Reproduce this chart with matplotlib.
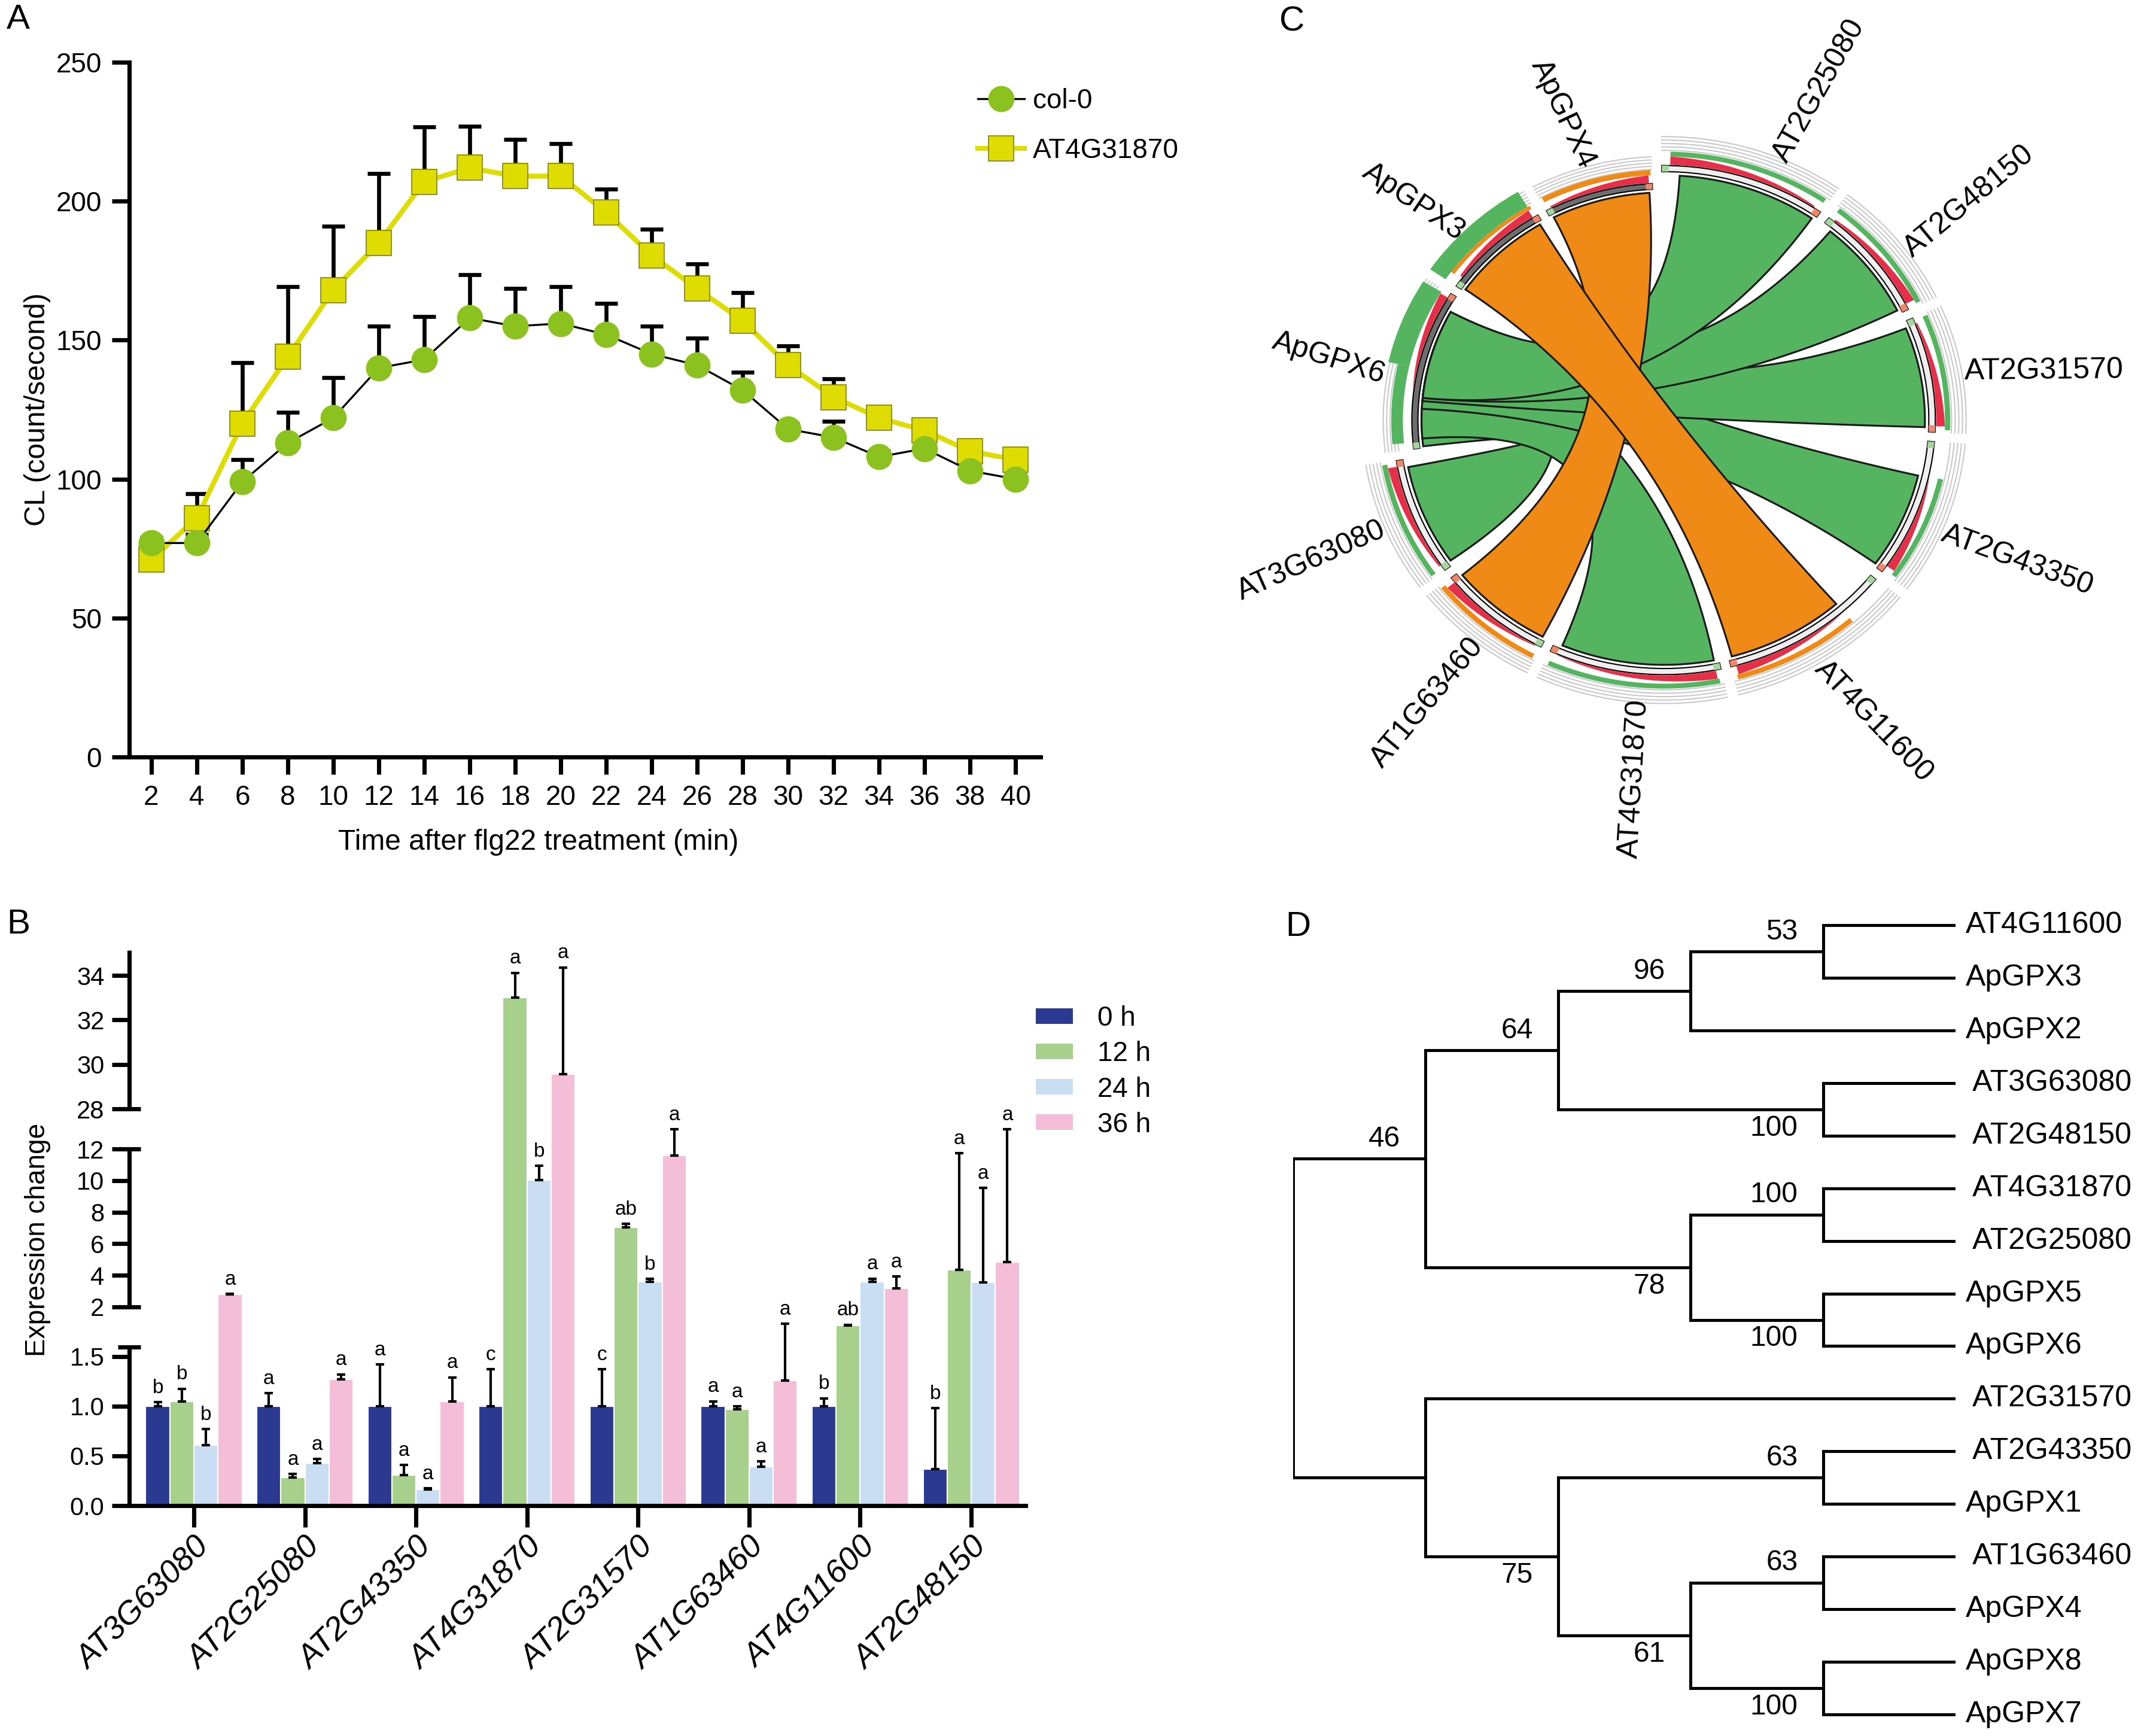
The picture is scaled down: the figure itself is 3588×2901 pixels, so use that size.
import numpy as np
import matplotlib
matplotlib.use('Agg')
import matplotlib.pyplot as plt
import matplotlib.transforms as mtransforms
from matplotlib.patches import Wedge, Polygon, Patch
from matplotlib.lines import Line2D

plt.rcParams['font.family'] = ['Liberation Sans', 'DejaVu Sans']

W, H, DPI = 3588, 2901, 300

# ---------------- panel A data
time_min = [2, 4, 6, 8, 10, 12, 14, 16, 18, 20, 22, 24, 26, 28, 30, 32, 34, 36, 38, 40]
col0_mean = [77, 77, 99, 113, 122, 140, 143, 158, 155, 156, 152, 145, 141, 132, 118, 115, 108, 111, 103, 100]
col0_err = [2, 3, 8, 11, 14.5, 15, 15.4, 15.5, 13.5, 13.3, 11.3, 10, 9.8, 6.4, 2, 5.7, 2, 2, 2, 2]
mut_mean = [71, 86, 120, 144, 168, 185, 207, 212, 209, 209, 196, 180.5, 168.5, 157, 141, 129.5, 122, 117.5, 110, 107]
mut_err = [2, 8.8, 22, 25.3, 23, 25, 19.7, 15, 13.3, 11.7, 8.4, 9.5, 9, 10, 7, 6.5, 2, 2, 2, 2]

# ---------------- panel B data
genes = ['AT3G63080', 'AT2G25080', 'AT2G43350', 'AT4G31870',
         'AT2G31570', 'AT1G63460', 'AT4G11600', 'AT2G48150']
hours = ['0 h', '12 h', '24 h', '36 h']
expr_0h = [1.0, 1.0, 1.0, 1.0, 1.0, 1.0, 1.0, 0.37]
expr_12h = [1.05, 0.28, 0.31, 33.0, 7.05, 0.97, 1.81, 4.34]
expr_24h = [0.61, 0.43, 0.16, 10.03, 3.59, 0.39, 3.59, 3.56]
expr_36h = [2.78, 1.27, 1.05, 29.58, 11.59, 1.26, 3.15, 4.85]
err_0h = [0.04, 0.13, 0.42, 0.37, 0.37, 0.05, 0.08, 0.61]
err_12h = [0.125, 0.04, 0.10, 1.12, 0.2, 0.03, 0.01, 7.39]
err_24h = [0.16, 0.04, 0.015, 0.92, 0.17, 0.055, 0.2, 5.97]
err_36h = [0.03, 0.05, 0.24, 4.78, 8.31, 0.57, 0.78, 15.05]
sig_0h = ['b', 'a', 'a', 'c', 'c', 'a', 'b', 'b']
sig_12h = ['b', 'a', 'a', 'a', 'ab', 'a', 'ab', 'a']
sig_24h = ['b', 'a', 'a', 'b', 'b', 'a', 'a', 'a']
sig_36h = ['a', 'a', 'a', 'a', 'a', 'a', 'a', 'a']
# broken axis: value knots and their relative heights
break_vals = [0, 2, 12, 28, 36]
break_pos = [0, 372, 667, 742, 1075.3]

# ---------------- panel C data
sectors = ['AT2G25080', 'AT2G48150', 'AT2G31570', 'AT2G43350', 'AT4G11600', 'AT4G31870',
           'AT1G63460', 'AT3G63080', 'ApGPX6', 'ApGPX3', 'ApGPX4']
sector_size = [37.9, 29.0, 28.5, 33.8, 39.2, 39.1, 26.9, 29.1, 41.5, 27.7, 27.3]
label_theta = [66.2, 37.4, 7.9, -22.9, -56.8, -94.5, -128.2, -157.0, 168.9, 137.1, 107.2]
label_rot = [60.6, 39.4, 0.5, -20.0, -46.0, 86.5, 50.2, 23.9, -17.7, -34.0, -64.8]
link_a = ['AT3G63080', 'AT4G31870', 'AT2G43350', 'AT2G31570', 'AT2G48150', 'AT2G25080',
          'AT1G63460', 'AT4G11600']
link_a_span = [(0.04, 0.93), (0.03, 0.95), (0.26, 0.98), (0.06, 0.96), (0.08, 0.97),
               (0.11, 0.98), (0.03, 0.96), (0.27, 0.98)]
link_b = ['ApGPX6', 'ApGPX6', 'ApGPX6', 'ApGPX6', 'ApGPX6', 'ApGPX6', 'ApGPX4', 'ApGPX3']
link_b_span = [(0.01, 0.75), (0.06, 0.8), (0.25, 0.86), (0.30, 0.88), (0.32, 0.9),
               (0.32, 0.9), (0.03, 0.97), (0.02, 0.97)]
link_kind = ['g', 'g', 'g', 'g', 'g', 'g', 'o', 'o']
# red track: (p0, p1, height at p0, height at p1)
red_track = [(0.05, 0.95, 1.0, 0.15), (0.05, 0.95, 0.2, 1.0), (0.05, 0.95, 0.15, 1.0),
             (0.25, 0.95, 0.0, 1.0), (0.27, 0.97, 0.0, 1.0), (0.03, 0.95, 1.0, 0.05),
             (0.05, 0.95, 0.1, 1.0), (0.05, 0.95, 0.2, 1.0), (0.35, 0.97, 0.0, 1.0),
             (0.1, 0.95, 0.3, 1.0), (0.05, 0.97, 0.2, 1.0)]
# outer tracks: (sector, p0, p1, r0, r1, kind)
outer_track = [('AT2G25080', 0.05, 0.98, 1.077, 1.097, 'g'), ('AT2G48150', 0.02, 0.98, 1.077, 1.097, 'g'),
               ('AT2G31570', 0.02, 0.98, 1.077, 1.097, 'g'), ('AT2G43350', 0.25, 0.98, 1.077, 1.097, 'g'),
               ('AT4G11600', 0.27, 0.98, 1.077, 1.097, 'o'), ('AT4G31870', 0.02, 0.98, 1.077, 1.097, 'g'),
               ('AT1G63460', 0.02, 0.98, 1.077, 1.097, 'o'), ('AT3G63080', 0.02, 0.98, 1.077, 1.097, 'g'),
               ('ApGPX6', 0.04, 0.5, 1.077, 1.125, 'g'), ('ApGPX6', 0.5, 0.98, 1.077, 1.165, 'g'),
               ('ApGPX3', 0.08, 0.98, 1.077, 1.093, 'o'), ('ApGPX3', 0.0, 0.96, 1.093, 1.17, 'g'),
               ('ApGPX4', 0.02, 0.99, 1.077, 1.1, 'o')]

# ---------------- panel D data
n53 = (['AT4G11600', 'ApGPX3'], 53)
n96 = ([n53, 'ApGPX2'], 96)
n100a = ([' AT3G63080', ' AT2G48150'], 100)
n64 = ([n96, n100a], 64)
n100b = ([' AT4G31870', ' AT2G25080'], 100)
n100c = (['ApGPX5', 'ApGPX6'], 100)
n78 = ([n100b, n100c], 78)
n46 = ([n64, n78], 46)
n63a = ([' AT2G43350', 'ApGPX1'], 63)
n63b = ([' AT1G63460', 'ApGPX4'], 63)
n100d = (['ApGPX8', 'ApGPX7'], 100)
n61 = ([n63b, n100d], 61)
n75 = ([n63a, n61], 75)
n_low = ([' AT2G31570', n75], None)
tree = ([n46, n_low], None)


def box(x0, y0, x1, y1):
    return [x0 / W, 1 - y1 / H, (x1 - x0) / W, (y1 - y0) / H]


fig = plt.figure(figsize=(W / DPI, H / DPI), dpi=DPI)

# ================= A
green_pt = '#8cc21f'
yellow = '#dedc00'
axA = fig.add_axes(box(216, 104, 1739, 1265))
zeros = np.zeros(len(time_min))
for mean, err in ((mut_mean, mut_err), (col0_mean, col0_err)):
    axA.errorbar(time_min, mean, yerr=[zeros, err], fmt='none', ecolor='black',
                 elinewidth=1.6, capsize=4.5, capthick=1.6, zorder=2)
axA.plot(time_min, mut_mean, color=yellow, lw=2.0, marker='s', ms=10,
         mfc=yellow, mec='#80800a', mew=0.4, zorder=3)
axA.plot(time_min, col0_mean, color='black', lw=0.8, zorder=4)
axA.plot(time_min, col0_mean, 'o', ms=9.5, color=green_pt, zorder=5)
axA.set_xlim(1.03, 41.1)
axA.set_ylim(0, 250)
axA.set_xticks(time_min)
axA.set_yticks([0, 50, 100, 150, 200, 250])
for s in ['top', 'right']:
    axA.spines[s].set_visible(False)
for s in ['left', 'bottom']:
    axA.spines[s].set_linewidth(1.7)
axA.tick_params(width=1.7, length=7, labelsize=11, pad=4)
axA.text(0.449, -0.123, 'Time after flg22 treatment (min)', transform=axA.transAxes,
         ha='center', va='center', fontsize=11.5)
axA.text(-0.101, 0.5, 'CL (count/second)', transform=axA.transAxes, rotation=90,
         ha='center', va='center', fontsize=11.5)
hA = [Line2D([0], [0], color='black', lw=0.8, marker='o', ms=9.5, mfc=green_pt, mec=green_pt),
      Line2D([0], [0], color=yellow, lw=2.0, marker='s', ms=10, mfc=yellow, mec='#80800a', mew=0.4)]
fig.legend(hA, ['col-0', 'AT4G31870'], loc='upper left', bbox_to_anchor=(1593 / W, 1 - 106 / H),
           frameon=False, fontsize=11, handlelength=1.7, handletextpad=0.3, labelspacing=0.85)

# ================= B
bar_cols = ['#2b3990', '#a8d08d', '#c9ddf3', '#f4bdd8']
axB = fig.add_axes(box(216, 1588, 1714, 2516))
axB.set_yscale('function', functions=(lambda v: np.interp(v, break_vals, break_pos),
                                       lambda p: np.interp(p, break_pos, break_vals)))
x = np.arange(len(genes))
w = 0.217
series = [(expr_0h, err_0h, sig_0h), (expr_12h, err_12h, sig_12h),
          (expr_24h, err_24h, sig_24h), (expr_36h, err_36h, sig_36h)]
for i, (vals, errs, sigs) in enumerate(series):
    xs = x + (i - 1.5) * w
    axB.bar(xs, vals, w, color=bar_cols[i], edgecolor='white', linewidth=0.5, zorder=2)
    axB.errorbar(xs, vals, yerr=[np.zeros(len(vals)), errs], fmt='none', ecolor='black',
                 elinewidth=1.0, capsize=1.6, capthick=1.0, zorder=3)
    for xi, v, e, s in zip(xs, vals, errs, sigs):
        axB.annotate(s, (xi, v + e), xytext=(0, 2), textcoords='offset points',
                     ha='center', va='bottom', fontsize=8)
axB.set_xlim(-0.582, 7.49)
axB.set_ylim(0, 35.13)
for s in ['top', 'right', 'left']:
    axB.spines[s].set_visible(False)
axB.spines['bottom'].set_linewidth(1.7)
yt = [0, 0.5, 1.0, 1.5, 2, 4, 6, 8, 10, 12, 28, 30, 32, 34]
axB.set_yticks(yt)
axB.set_yticklabels(['0.0', '0.5', '1.0', '1.5', '2', '4', '6', '8', '10', '12', '28', '30', '32', '34'])
axB.tick_params(axis='y', width=1.7, length=7, labelsize=10, pad=3)
axB.tick_params(axis='x', width=1.7, length=8.6, pad=2)
axB.set_xticks(x)
axB.set_xticklabels(genes, rotation=45, ha='right', va='top', rotation_mode='anchor',
                    fontstyle='italic', fontsize=13)
tr = mtransforms.blended_transform_factory(axB.transAxes, axB.transData)
for lo, hi in [(0, 1.597), (2, 12), (28, 35.13)]:
    axB.plot([0, 0], [lo, hi], transform=tr, color='black', lw=1.7, clip_on=False,
             solid_capstyle='butt', zorder=5)
for v in [1.597, 2, 12, 28]:
    axB.plot([-0.0127, 0.0127], [v, v], transform=tr, color='black', lw=1.7,
             clip_on=False, solid_capstyle='butt', zorder=5)
axB.text(-0.102, 0.478, 'Expression change', transform=axB.transAxes, rotation=90,
         ha='center', va='center', fontsize=11)
hB = [Patch(facecolor=c) for c in bar_cols]
fig.legend(hB, hours, loc='upper left', bbox_to_anchor=(1690 / W, 1 - 1639 / H), frameon=False,
           fontsize=11, handlelength=1.35, handleheight=0.5, handletextpad=0.9,
           labelspacing=0.33, borderpad=0.4)

# ================= C
kind_col = {'g': '#55b45f', 'o': '#f08a16'}
axC = fig.add_axes(box(2149, 88.5, 3413, 1315.5))
axC.set_xlim(-1.45, 1.45)
axC.set_ylim(-1.5, 1.5)
axC.axis('off')
gap = 2.2
bounds = {}
a = 91.6
for name, size in zip(sectors, sector_size):
    bounds[name] = (a - gap / 2, a - size + gap / 2)
    a -= size
rscale = {n: (0.93 if n.startswith('Ap') else 1.0) for n in sectors}


def ang(name, p):
    hi, lo = bounds[name]
    return hi - p * (hi - lo)


def arc(t0, t1, r, n=80):
    t = np.radians(np.linspace(t0, t1, n))
    return np.column_stack([r * np.cos(t), r * np.sin(t)])


def bez(p0, p2, n=100):
    t = np.linspace(0, 1, n)[:, None]
    return (1 - t) ** 2 * p0 + t ** 2 * p2


for k, name in enumerate(sectors):
    hi, lo = bounds[name]
    rs = rscale[name]
    for rr in [1.102, 1.116, 1.13, 1.144, 1.158]:
        pts = arc(hi, lo, rr * rs)
        axC.plot(pts[:, 0], pts[:, 1], color='#c9c9c9', lw=0.5, zorder=1)
    fc = '#6e6e6e' if name.startswith('Ap') else '#eeeeee'
    axC.add_patch(Wedge((0, 0), 1.04 * rs, lo, hi, width=0.025 * rs, fc=fc, ec='black', lw=0.5, zorder=3))
    axC.add_patch(Wedge((0, 0), 1.04 * rs, hi - 1.5, hi, width=0.025 * rs, fc='#a5d6a0', ec='none', zorder=4))
    axC.add_patch(Wedge((0, 0), 1.04 * rs, lo, lo + 1.5, width=0.025 * rs, fc='#f0876a', ec='none', zorder=4))
    p0, p1, f0, f1 = red_track[k]
    ps = np.linspace(p0, p1, 80)
    th = np.radians(hi - ps * (hi - lo))
    ro = (1.043 + 0.034 * (f0 + (f1 - f0) * (ps - p0) / (p1 - p0))) * rs
    outer = np.column_stack([ro * np.cos(th), ro * np.sin(th)])
    inner = np.column_stack([1.043 * rs * np.cos(th[::-1]), 1.043 * rs * np.sin(th[::-1])])
    axC.add_patch(Polygon(np.vstack([outer, inner]), closed=True, fc='#e6304a', ec='none', zorder=3))
    lr = 1.47 if rs == 1.0 else 1.31
    t = np.radians(label_theta[k])
    axC.text(lr * np.cos(t), lr * np.sin(t), name, rotation=label_rot[k], rotation_mode='anchor',
             ha='center', va='center', fontsize=12)

for name, p0, p1, r0, r1, kd in outer_track:
    rs = rscale[name]
    axC.add_patch(Wedge((0, 0), r1 * rs, ang(name, p1), ang(name, p0), width=(r1 - r0) * rs,
                        fc=kind_col[kd], ec='none', zorder=2))

for na, (a0, a1), nb, (b0, b1), kd in zip(link_a, link_a_span, link_b, link_b_span, link_kind):
    ra, rb = rscale[na], rscale[nb]
    A = arc(ang(na, a0), ang(na, a1), ra)
    B = arc(ang(nb, b0), ang(nb, b1), rb)
    pts = np.vstack([A, bez(A[-1], B[0]), B, bez(B[-1], A[0])])
    axC.add_patch(Polygon(pts, closed=True, fc=kind_col[kd], ec='#1a1a1a', lw=0.75, zorder=2))

# ================= D
axD = fig.add_axes(box(2161, 1502.5, 3268, 2891))
axD.set_xlim(0, 5)
axD.set_ylim(15.3, -0.5)
axD.axis('off')
leaves = []


def layout(node):
    if isinstance(node, str):
        leaves.append(node)
        return {'name': node, 'x': 5.0, 'y': len(leaves) - 1, 'h': 0, 'kids': [], 'sup': None}
    kids = [layout(c) for c in node[0]]
    h = max(c['h'] for c in kids) + 1
    return {'x': 5.0 - h, 'y': (kids[0]['y'] + kids[-1]['y']) / 2, 'h': h, 'kids': kids, 'sup': node[1]}


def draw(n):
    if not n['kids']:
        axD.text(5.077, n['y'], n['name'], ha='left', va='center', fontsize=12, clip_on=False)
        return
    ys = [c['y'] for c in n['kids']]
    axD.plot([n['x'], n['x']], [min(ys), max(ys)], color='black', lw=1.2, solid_capstyle='projecting')
    for i, c in enumerate(n['kids']):
        axD.plot([n['x'], c['x']], [c['y'], c['y']], color='black', lw=1.2, solid_capstyle='projecting')
        if c['sup'] is not None:
            dy = -0.235 if i == 0 else 0.5
            axD.text(c['x'] - 0.19, c['y'] + dy, str(c['sup']), ha='right', va='baseline', fontsize=11.5)
        draw(c)


draw(layout(tree))

# panel letters
for lab, px, py in [('A', 11, 6), ('B', 11, 1518), ('C', 2138, 10), ('D', 2148, 1522)]:
    fig.text(px / W, 1 - py / H, lab, ha='left', va='top', fontsize=14)

fig.savefig('out.png', dpi=DPI)
